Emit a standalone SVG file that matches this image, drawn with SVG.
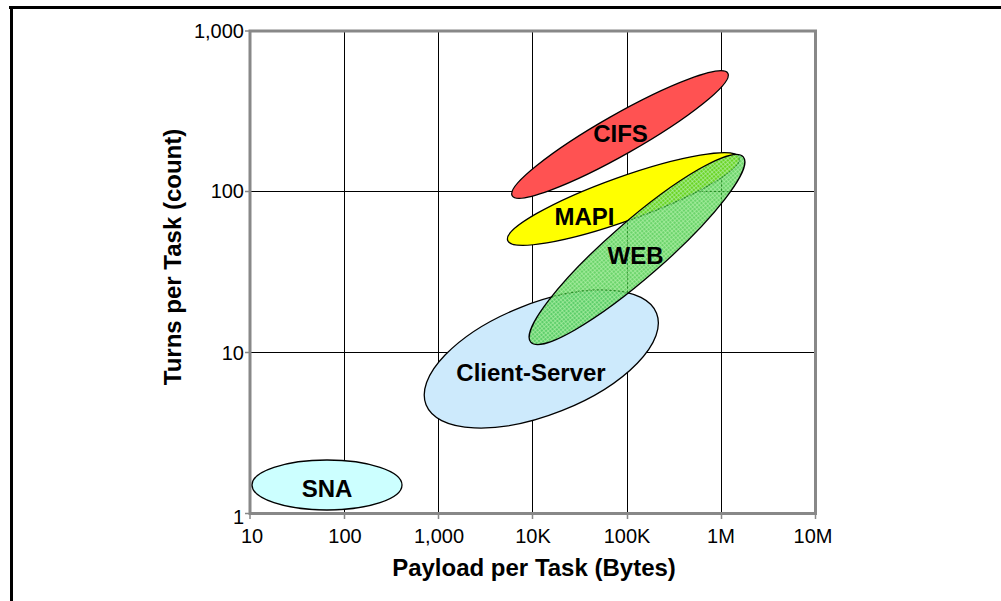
<svg xmlns="http://www.w3.org/2000/svg" width="1001" height="601" viewBox="0 0 1001 601">
<style>
.tick{font-family:"Liberation Sans",Arial,sans-serif;font-size:20px;fill:#000}
.title{font-family:"Liberation Sans",Arial,sans-serif;font-size:24px;font-weight:bold;fill:#000}
.lbl{font-family:"Liberation Sans",Arial,sans-serif;font-size:24px;font-weight:bold;fill:#000;text-anchor:middle}
.grid{stroke:#000;stroke-width:1;fill:none}
.shape{stroke:#000;stroke-width:1.3}
</style>
<defs>
<pattern id="hatch" width="3" height="3" patternUnits="userSpaceOnUse">
<rect width="3" height="3" fill="#33c433" fill-opacity="0.72"/>
<path d="M0 0.5H3M0.5 0V3" stroke="#b4f4aa" stroke-width="1" stroke-opacity="0.6"/>
</pattern>
</defs>
<rect width="1001" height="601" fill="#fff"/>
<!-- frame -->
<rect x="9" y="6" width="992" height="3" fill="#000"/>
<rect x="10" y="6" width="3" height="595" fill="#000"/>
<!-- grid -->
<g id="grid">
<path class="grid" d="M344.5 31V513M438.5 31V513M532.5 31V513M627.5 31V513M721.5 31V513M250 191.5H815M250 352.5H815"/>
<rect x="250" y="31" width="565.5" height="482.5" fill="none" stroke="#888" stroke-width="3"/>
<path d="M245 31H250M245 191.5H250M245 352.5H250M245 513.5H250M250 513.5V519M344.5 513.5V519M438.5 513.5V519M532.5 513.5V519M627.5 513.5V519M721.5 513.5V519M815.5 513.5V519" stroke="#888" stroke-width="1.5"/>
</g>
<!-- axis labels -->
<g id="y-ticks" class="tick" text-anchor="end">
<text x="244" y="38">1,000</text>
<text x="244" y="198">100</text>
<text x="244" y="360">10</text>
<text x="244" y="524">1</text>
</g>
<g id="x-ticks" class="tick" text-anchor="middle">
<text x="252" y="543">10</text>
<text x="345" y="543">100</text>
<text x="439" y="543">1,000</text>
<text x="533" y="543">10K</text>
<text x="627" y="543">100K</text>
<text x="721" y="543">1M</text>
<text x="813" y="543">10M</text>
</g>
<text id="x-title" class="title" x="534" y="576" text-anchor="middle">Payload per Task (Bytes)</text>
<text id="y-title" class="title" transform="translate(181 257) rotate(-90)" text-anchor="middle">Turns per Task (count)</text>
<!-- regions -->
<g id="sna">
<ellipse class="shape" cx="327" cy="485" rx="75" ry="25" fill="#ccffff"/>
<text class="lbl" x="327" y="497">SNA</text>
</g>
<g id="client-server">
<ellipse class="shape" cx="541.3" cy="359" rx="124" ry="55.6" fill="#cdeafc" transform="rotate(-21.65 541.3 359)"/>
<text class="lbl" x="531" y="381">Client-Server</text>
</g>
<g id="cifs">
<ellipse class="shape" cx="620" cy="134.5" rx="124" ry="20" fill="#ff5252" transform="rotate(-29.6 620 134.5)"/>
<text class="lbl" x="620.5" y="142">CIFS</text>
</g>
<g id="mapi">
<ellipse class="shape" cx="623.5" cy="199" rx="123" ry="22" fill="#ffff00" transform="rotate(-19.7 623.5 199)"/>
<text class="lbl" x="584.5" y="225">MAPI</text>
</g>
<g id="web">
<ellipse class="shape" cx="637" cy="249.5" rx="141" ry="28" fill="url(#hatch)" transform="rotate(-41.1 637 249.5)"/>
<text class="lbl" x="635.5" y="264">WEB</text>
</g>
</svg>
